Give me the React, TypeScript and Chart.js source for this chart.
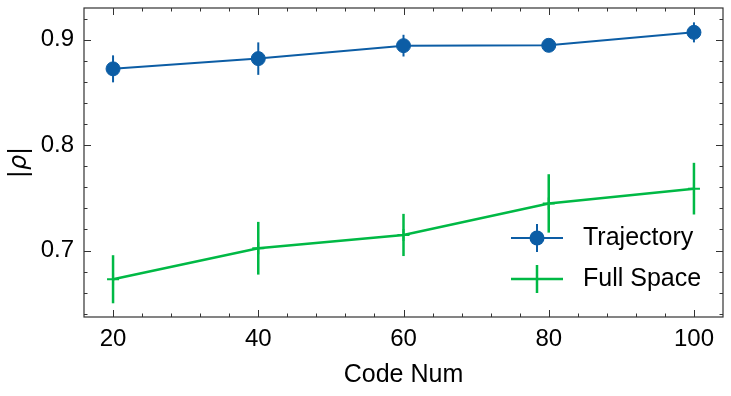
import React, { useEffect, useRef } from 'react';
import { Chart, registerables } from 'chart.js';

Chart.register(...registerables);

const codeNums = [20, 40, 60, 80, 100];
const trajectoryMean = [0.8723, 0.882, 0.8943, 0.8946, 0.9069];
const trajectoryErr = [0.0128, 0.0154, 0.0103, 0.006, 0.0095];
const fullSpaceMean = [0.6728, 0.7022, 0.7148, 0.7447, 0.7587];
const fullSpaceErr = [0.0228, 0.025, 0.02, 0.0277, 0.0245];
const xTicks = [20, 40, 60, 80, 100];
const yTicks = [0.7, 0.8, 0.9];
const xMinorStep = 4;
const yMinorStep = 0.02;
const seriesNames = ['Trajectory', 'Full Space'];
const xLabel = 'Code Num';

const BLUE = '#0C5DA5';
const GREEN = '#00B945';
const AXIS = '#333333';
const FONT = '"Liberation Sans", Arial, Helvetica, sans-serif';

const plotPlugin = {
  id: 'sciencePlot',
  beforeDatasetsDraw(chart: any) {
    const { ctx } = chart;
    const xs = chart.scales.x;
    const ys = chart.scales.y;
    const drawErr = (means: number[], errs: number[], color: string, w: number) => {
      ctx.save();
      ctx.strokeStyle = color;
      ctx.lineWidth = w;
      codeNums.forEach((c, i) => {
        const px = xs.getPixelForValue(c);
        ctx.beginPath();
        ctx.moveTo(px, ys.getPixelForValue(means[i] - errs[i]));
        ctx.lineTo(px, ys.getPixelForValue(means[i] + errs[i]));
        ctx.stroke();
      });
      ctx.restore();
    };
    drawErr(trajectoryMean, trajectoryErr, BLUE, 2);
    drawErr(fullSpaceMean, fullSpaceErr, GREEN, 2.5);
  },
  afterDraw(chart: any) {
    const { ctx, chartArea } = chart;
    const { left, right, top, bottom } = chartArea;
    const xs = chart.scales.x;
    const ys = chart.scales.y;
    ctx.save();
    // frame
    ctx.strokeStyle = AXIS;
    ctx.lineWidth = 1.2;
    ctx.strokeRect(left, top, right - left, bottom - top);
    // ticks
    const majorLen = 7;
    const minorLen = 3.5;
    ctx.lineWidth = 1;
    const vTick = (px: number, len: number) => {
      ctx.beginPath();
      ctx.moveTo(px, bottom);
      ctx.lineTo(px, bottom - len);
      ctx.moveTo(px, top);
      ctx.lineTo(px, top + len);
      ctx.stroke();
    };
    const hTick = (py: number, len: number) => {
      ctx.beginPath();
      ctx.moveTo(left, py);
      ctx.lineTo(left + len, py);
      ctx.moveTo(right, py);
      ctx.lineTo(right - len, py);
      ctx.stroke();
    };
    xTicks.forEach((v) => vTick(Math.round(xs.getPixelForValue(v)) + 0.5, majorLen));
    for (let v = Math.ceil(xs.min / xMinorStep) * xMinorStep; v <= xs.max + 1e-9; v += xMinorStep) {
      if (v <= xs.min || v >= xs.max) continue;
      if (xTicks.some((t) => Math.abs(t - v) < 1e-9)) continue;
      vTick(Math.round(xs.getPixelForValue(v)) + 0.5, minorLen);
    }
    yTicks.forEach((v) => hTick(Math.round(ys.getPixelForValue(v)) + 0.5, majorLen));
    for (let k = Math.ceil(ys.min / yMinorStep - 1e-9); k * yMinorStep <= ys.max; k++) {
      const v = k * yMinorStep;
      if (v <= ys.min || v >= ys.max) continue;
      if (yTicks.some((t) => Math.abs(t - v) < 1e-6)) continue;
      hTick(Math.round(ys.getPixelForValue(v)) + 0.5, minorLen);
    }

    // legend
    const lx0 = right - 212;
    const lx1 = right - 160;
    const mx = (lx0 + lx1) / 2;
    const tx = right - 140;
    const rows = [bottom - 79, bottom - 38];
    // Trajectory
    ctx.lineWidth = 2;
    ctx.strokeStyle = BLUE;
    ctx.beginPath();
    ctx.moveTo(lx0, rows[0]);
    ctx.lineTo(lx1, rows[0]);
    ctx.moveTo(mx, rows[0] - 14);
    ctx.lineTo(mx, rows[0] + 14);
    ctx.stroke();
    ctx.fillStyle = BLUE;
    ctx.beginPath();
    ctx.arc(mx, rows[0], 7.5, 0, Math.PI * 2);
    ctx.fill();
    // Full Space
    ctx.lineWidth = 2.5;
    ctx.strokeStyle = GREEN;
    ctx.beginPath();
    ctx.moveTo(lx0, rows[1]);
    ctx.lineTo(lx1, rows[1]);
    ctx.moveTo(mx, rows[1] - 14);
    ctx.lineTo(mx, rows[1] + 14);
    ctx.stroke();
    ctx.fillStyle = '#000';
    ctx.font = `25px ${FONT}`;
    ctx.textBaseline = 'middle';
    ctx.textAlign = 'left';
    ctx.fillText(seriesNames[0], tx, rows[0]);
    ctx.fillText(seriesNames[1], tx, rows[1]);

    // y label |ρ|
    ctx.translate(20, (top + bottom) / 2);
    ctx.rotate(-Math.PI / 2);
    const up = `24px "DejaVu Sans", sans-serif`;
    const it = `italic 24px "DejaVu Sans", sans-serif`;
    ctx.font = up;
    const wBar = ctx.measureText('|').width;
    ctx.font = it;
    const wRho = ctx.measureText('ρ').width;
    const total = wBar * 2 + wRho;
    let cx = -total / 2;
    ctx.textBaseline = 'middle';
    ctx.font = up;
    ctx.fillText('|', cx, 0);
    cx += wBar;
    ctx.font = it;
    ctx.fillText('ρ', cx, 0);
    cx += wRho;
    ctx.font = up;
    ctx.fillText('|', cx, 0);
    ctx.restore();
  },
};

export default function App() {
  const canvasRef = useRef<HTMLCanvasElement | null>(null);
  useEffect(() => {
    if (!canvasRef.current) return;
    const chart = new Chart(canvasRef.current, {
      type: 'line',
      data: {
        datasets: [
          {
            label: seriesNames[0],
            data: codeNums.map((c, i) => ({ x: c, y: trajectoryMean[i] })),
            borderColor: BLUE,
            backgroundColor: BLUE,
            borderWidth: 2,
            pointStyle: 'circle',
            pointRadius: 7,
            pointBorderWidth: 1,
            pointBackgroundColor: BLUE,
            pointBorderColor: BLUE,
            tension: 0,
          },
          {
            label: seriesNames[1],
            data: codeNums.map((c, i) => ({ x: c, y: fullSpaceMean[i] })),
            borderColor: GREEN,
            backgroundColor: GREEN,
            borderWidth: 2.5,
            pointStyle: 'cross',
            pointRadius: 6,
            pointBorderWidth: 2,
            pointBorderColor: GREEN,
            tension: 0,
          },
        ],
      },
      options: {
        responsive: false,
        maintainAspectRatio: false,
        animation: false,
        layout: { padding: { top: 8, right: 8, left: 0, bottom: 0 } },
        plugins: {
          legend: { display: false },
          tooltip: { enabled: false },
        },
        scales: {
          x: {
            type: 'linear',
            min: 16,
            max: 104,
            grid: { display: false, drawTicks: false },
            border: { display: false },
            afterBuildTicks: (s: any) => {
              s.ticks = xTicks.map((v) => ({ value: v }));
            },
            afterFit: (s: any) => {
              s.height = 79;
              s.paddingLeft = 0;
              s.paddingRight = 0;
            },
            ticks: {
              font: { family: FONT, size: 24 },
              color: '#000',
              padding: 8,
              maxRotation: 0,
              autoSkip: false,
              callback: (v: any) => String(v),
            },
            title: {
              display: true,
              text: xLabel,
              font: { family: FONT, size: 25 },
              color: '#000',
              padding: { top: 0, bottom: 6 },
            },
          },
          y: {
            type: 'linear',
            min: 0.637,
            max: 0.93,
            grid: { display: false, drawTicks: false },
            border: { display: false },
            afterBuildTicks: (s: any) => {
              s.ticks = yTicks.map((v) => ({ value: v }));
            },
            afterFit: (s: any) => {
              s.width = 84;
              s.paddingTop = 0;
              s.paddingBottom = 0;
            },
            ticks: {
              font: { family: FONT, size: 24 },
              color: '#000',
              padding: 10,
              autoSkip: false,
              callback: (v: any) => Number(v).toFixed(1),
            },
          },
        },
      },
      plugins: [plotPlugin],
    } as any);
    return () => chart.destroy();
  }, []);
  return (
    <div style={{ position: 'fixed', left: 0, top: 0, width: 731, height: 396, background: '#fff' }}>
      <canvas ref={canvasRef} width={731} height={396} />
    </div>
  );
}
